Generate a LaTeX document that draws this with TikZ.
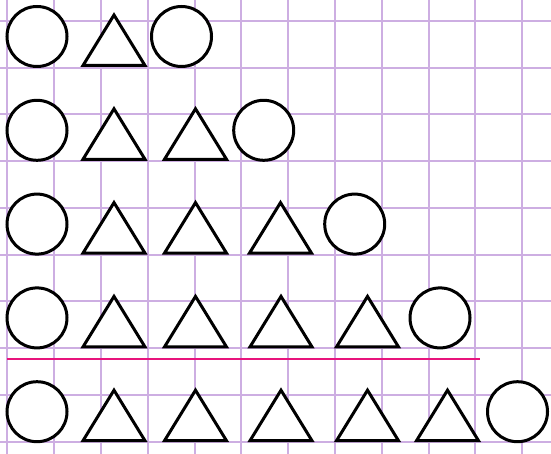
\documentclass[tikz,border=0pt]{standalone}
\usepackage{tikz}
\definecolor{cGrid}{HTML}{CDAEE2}
\definecolor{cRule}{HTML}{E8147C}
\begin{document}
\begin{tikzpicture}[
  x=1pt, y=-1pt,
  gridline/.style={draw=cGrid, line width=2pt},
  redrule/.style={draw=cRule, line width=2pt},
  shp/.style={draw=black, line width=3pt, fill=white},
]
\useasboundingbox (0,0) rectangle (551,454);
\fill[white] (0,0) rectangle (551,454);

% squared paper
\foreach \x in {7,54,101,148,195,241,288,335,382,429,475,522}{\draw[gridline] (\x,0) -- ++(0,454);}
\foreach \y in {21,68,114,161,208,255,301,348,395,442}{\draw[gridline] (0,\y) -- ++(551,0);}

% red rule under the fourth row
\draw[redrule] (7,359) -- (480,359);

% rows: circle, triangles, circle
\foreach \y/\xe/\tris in {36.5/181.5/{114},
                          130.3/263.7/{114,195.5},
                          224.1/354.7/{114,195.5,280.5},
                          317.9/440/{114,195.5,281,367.5},
                          411.7/517.5/{114,195.5,281,367.5,447.5}}{
  \draw[shp] (37,\y) circle[radius=30];
  \draw[shp] (\xe,\y) circle[radius=30];
  \foreach \x in \tris{
    \draw[shp, shift={(\x,\y)}] (-31,29) -- (0,-21.5) -- (31,29) -- cycle;}
}
\end{tikzpicture}
\end{document}
